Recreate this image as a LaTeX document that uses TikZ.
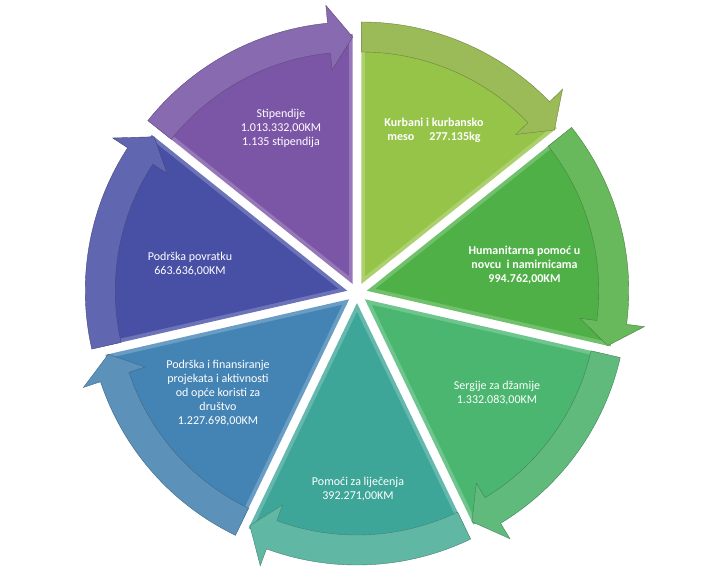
\documentclass[tikz,border=0pt]{standalone}
\usepackage{fontspec}
\setmainfont{Carlito}
\definecolor{sA}{RGB}{150,196,72}
\definecolor{bA}{RGB}{155,187,89}
\definecolor{sB}{RGB}{78,176,70}
\definecolor{bB}{RGB}{104,184,92}
\definecolor{sC}{RGB}{74,182,112}
\definecolor{bC}{RGB}{96,186,124}
\definecolor{sD}{RGB}{62,166,152}
\definecolor{bD}{RGB}{96,184,164}
\definecolor{sE}{RGB}{68,132,180}
\definecolor{bE}{RGB}{92,146,186}
\definecolor{sF}{RGB}{72,80,166}
\definecolor{bF}{RGB}{96,102,176}
\definecolor{sG}{RGB}{124,86,166}
\definecolor{bG}{RGB}{136,106,176}
\begin{document}
\begin{tikzpicture}[x=1pt,y=1pt,
  lbl/.style={text=white,font=\fontsize{12}{14}\selectfont,align=center,inner sep=0pt},
  lblb/.style={lbl,font=\fontsize{12}{14}\selectfont\bfseries},
  band/.style={line width=0.4pt}]
\useasboundingbox (-357,-289) rectangle (365,293);
\def\RA{262}\def\RB{232}\def\RH{280}\def\RI{215}\def\RT{247}\def\RS{250}
\foreach \i/\sc/\bc in {0/sA/bA,1/sB/bB,2/sC/bC,3/sD/bD,4/sE/bE,5/sF/bF,6/sG/bG}{
  \pgfmathsetmacro\s{90-\i*360/7}
  \pgfmathsetmacro\e{\s-360/7}
  \pgfmathsetmacro\m{\s-180/7}
  \pgfmathsetmacro\h{\e+5.5}
  \begin{scope}[shift={(\m:10)}]
    \fill[\sc!80!white] (0,0) -- (\s:\RS) arc[start angle=\s,end angle=\e,radius=\RS] -- cycle;
    \begin{scope}[shift={(\m:9)}]
      \fill[\sc] (0,0) -- (\s:\RS-9) arc[start angle=\s,end angle=\e,radius=\RS-9] -- cycle;
    \end{scope}
    \path[band,fill=\bc,draw=\bc!70!black] (\s:\RA) arc[start angle=\s,end angle=\h,radius=\RA]
      -- (\h:\RH) -- (\e:\RT) -- (\h:\RI) -- (\h:\RB)
      arc[start angle=\h,end angle=\s,radius=\RB] -- cycle;
  \end{scope}
}
\node[lblb] (kurbani) at (77,163) {Kurbani i kurbansko\\meso\hspace*{15pt}277.135kg};
\node[lblb] (humanitarna) at (167.5,28) {Humanitarna pomoć u\\novcu\ \ i namirnicama\\994.762,00KM};
\node[lbl] (sergije) at (140,-100) {Sergije za džamije\\1.332.083,00KM};
\node[lbl] (pomoci) at (1,-196) {Pomoći za liječenja\\392.271,00KM};
\node[lbl] (finans) at (-139,-100) {Podrška i finansiranje\\projekata i aktivnosti\\od opće koristi za\\društvo\\1.227.698,00KM};
\node[lbl] (povratak) at (-167,29) {Podrška povratku\\663.636,00KM};
\node[lbl] (stipendije) at (-76,165) {Stipendije\\1.013.332,00KM\\1.135 stipendija};
\end{tikzpicture}
\end{document}
